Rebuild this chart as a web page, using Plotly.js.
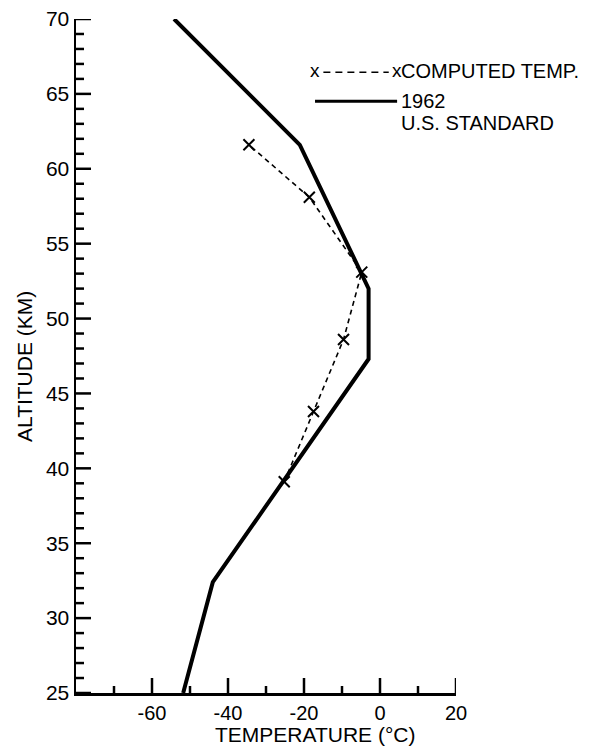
<!DOCTYPE html>
<html>
<head>
<meta charset="utf-8">
<script src="https://cdn.plot.ly/plotly-3.0.1.min.js"></script>
<style>html,body{margin:0;padding:0;background:#fff;}#chart{width:594px;height:746px;}</style>
</head>
<body>
<div id="chart"></div>
<script>
// 1962 U.S. Standard atmosphere (solid)
const stdTemp = [-51.8, -44.0, -3.0, -3.0, -21.1, -54.2];
const stdAlt  = [25, 32.4, 47.3, 52.0, 61.6, 70];
// Computed temperatures (x markers, dashed)
const compTemp = [-25.2, -17.5, -9.6, -4.8, -18.6, -34.5];
const compAlt  = [39.1, 43.8, 48.6, 53.1, 58.1, 61.6];
// Tick labels
const xTickVals = [-60, -40, -20, 0, 20];
const xTickText = ['-60', '-40', '-20', '0', '20'];
const xMinorVals = [-70, -50, -30, -10, 10];
const yTickVals = [25, 30, 35, 40, 45, 50, 55, 60, 65, 70];
const yMinorVals = [26,27,28,29,31,32,33,34,36,37,38,39,41,42,43,44,46,47,48,49,51,52,53,54,56,57,58,59,61,62,63,64,66,67,68,69];
const legendNames = ['COMPUTED TEMP.', '1962', 'U.S. STANDARD'];

const FONT = 'Liberation Sans, Arial, sans-serif';
const xRange = [-80, 20], yRange = [25, 70];

const traces = [
  {x: stdTemp, y: stdAlt, type: 'scatter', mode: 'lines',
   line: {color: '#000', width: 4}, hoverinfo: 'skip', showlegend: false},
  {x: compTemp, y: compAlt, type: 'scatter', mode: 'lines+markers',
   line: {color: '#000', width: 1.6, dash: '5px,4px'},
   marker: {symbol: 'x-thin', size: 11, line: {color: '#000', width: 2}},
   hoverinfo: 'skip', showlegend: false}
];

// tick marks drawn inward, built from the tick arrays
const shapes = [];
xTickVals.forEach(v => shapes.push({type: 'line', xref: 'x', yref: 'y', ysizemode: 'pixel', yanchor: yRange[0],
  x0: v, x1: v, y0: 0, y1: 15, line: {color: '#000', width: 2.5}}));
xMinorVals.forEach(v => shapes.push({type: 'line', xref: 'x', yref: 'y', ysizemode: 'pixel', yanchor: yRange[0],
  x0: v, x1: v, y0: 0, y1: 7, line: {color: '#000', width: 2.5}}));
yTickVals.forEach(v => shapes.push({type: 'line', xref: 'x', yref: 'y', xsizemode: 'pixel', xanchor: xRange[0],
  y0: v, y1: v, x0: 0, x1: 15, line: {color: '#000', width: 2.5}}));
yMinorVals.forEach(v => shapes.push({type: 'line', xref: 'x', yref: 'y', xsizemode: 'pixel', xanchor: xRange[0],
  y0: v, y1: v, x0: 0, x1: 8, line: {color: '#000', width: 2.5}}));

// legend glyphs in paper coordinates
const lx0 = 0.629, lx1 = 0.845, ly1 = 0.921, ly2 = 0.878;
shapes.push({type: 'line', xref: 'paper', yref: 'paper', x0: lx0 + 0.022, x1: lx1 - 0.022, y0: ly1, y1: ly1,
   line: {color: '#000', width: 1.6, dash: '7px,5px'}});
shapes.push({type: 'line', xref: 'paper', yref: 'paper', x0: lx0, x1: lx1, y0: ly2, y1: ly2,
   line: {color: '#000', width: 3}});

const layout = {
  width: 594, height: 746,
  margin: {l: 76, r: 138, t: 19, b: 53, pad: 0},
  paper_bgcolor: '#fff', plot_bgcolor: '#fff',
  font: {family: FONT, color: '#000', size: 20},
  showlegend: false,
  xaxis: {
    range: xRange, showgrid: false, zeroline: false, showline: true, linecolor: '#000', linewidth: 2.5,
    ticks: '', tickmode: 'array', tickvals: xTickVals, ticktext: xTickText,
    tickfont: {family: FONT, size: 20, color: '#000'}
  },
  yaxis: {
    range: yRange, showgrid: false, zeroline: false, showline: true, linecolor: '#000', linewidth: 2.5,
    ticks: '', tickmode: 'array', tickvals: yTickVals,
    tickfont: {family: FONT, size: 21, color: '#000'}
  },
  shapes: shapes,
  annotations: [
    {xref: 'paper', yref: 'paper', x: lx0, y: ly1, text: 'x', showarrow: false,
     xanchor: 'center', yanchor: 'middle', font: {family: FONT, size: 19}, yshift: 2},
    {xref: 'paper', yref: 'paper', x: lx1, y: ly1, text: 'x', showarrow: false,
     xanchor: 'center', yanchor: 'middle', font: {family: FONT, size: 19}, yshift: 2},
    {xref: 'paper', yref: 'paper', x: 0.851, y: ly1, text: legendNames[0], showarrow: false,
     xanchor: 'left', yanchor: 'middle', font: {family: FONT, size: 20}, yshift: 1},
    {xref: 'paper', yref: 'paper', x: 0.851, y: ly2, text: legendNames[1], showarrow: false,
     xanchor: 'left', yanchor: 'middle', font: {family: FONT, size: 20}},
    {xref: 'paper', yref: 'paper', x: 0.851, y: ly2, yshift: -22, text: legendNames[2], showarrow: false,
     xanchor: 'left', yanchor: 'middle', font: {family: FONT, size: 20}},
    {xref: 'paper', yref: 'paper', x: (315 - 76) / 380, y: 0, yshift: -41, text: 'TEMPERATURE (°C)',
     showarrow: false, xanchor: 'center', yanchor: 'middle', font: {family: FONT, size: 21}},
    {xref: 'paper', yref: 'paper', x: 0, xshift: -51, y: 1 - (367 - 19) / 674, text: 'ALTITUDE (KM)',
     showarrow: false, textangle: -90, xanchor: 'center', yanchor: 'middle', font: {family: FONT, size: 21}}
  ]
};

Plotly.newPlot('chart', traces, layout, {staticPlot: true, displayModeBar: false});
</script>
</body>
</html>
